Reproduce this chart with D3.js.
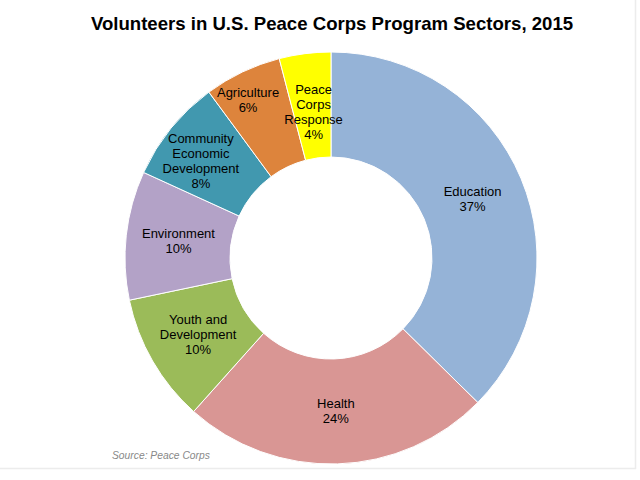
<!DOCTYPE html>
<html>
<head>
<meta charset="utf-8">
<script src="https://cdn.jsdelivr.net/npm/d3@7"></script>
<style>
  html, body { margin: 0; padding: 0; background: #fff; }
  svg { display: block; }
</style>
</head>
<body>
<svg id="chart" width="640" height="480"></svg>
<script>
// ---- data ----
const sectors = ["Education", "Health", "Youth and Development", "Environment",
                 "Community Economic Development", "Agriculture", "Peace Corps Response"];
const shares = [37, 24, 10, 10, 8, 6, 4];
const labelLines = [
  ["Education"],
  ["Health"],
  ["Youth and", "Development"],
  ["Environment"],
  ["Community", "Economic", "Development"],
  ["Agriculture"],
  ["Peace", "Corps", "Response"]
];
const sliceColors = ["#95B3D7", "#D99694", "#9BBB59", "#B3A2C7", "#4198AF", "#DD843C", "#FFFF00"];
const titleText = "Volunteers in U.S. Peace Corps Program Sectors, 2015";
const sourceText = "Source: Peace Corps";

// ---- layout ----
const W = 640, H = 480;
const cx = 331, cy = 258;
const outerR = 206, innerR = 101;
const lineH = 15;
// Excel-style nudges for labels that are fitted inside narrow slices
const labelNudge = { 4: [-11, 0], 5: [-17, -19], 6: [2, 6] };

const svg = d3.select("#chart");

// frame (right & bottom edge)
svg.append("line").attr("x1", 0).attr("x2", 636).attr("y1", 468.5).attr("y2", 468.5)
  .attr("stroke", "#ececec").attr("stroke-width", 1.5);
svg.append("line").attr("x1", 635.5).attr("x2", 635.5).attr("y1", 0).attr("y2", 469)
  .attr("stroke", "#ececec").attr("stroke-width", 1.5);

svg.append("text")
  .attr("x", 332).attr("y", 30)
  .attr("text-anchor", "middle")
  .attr("font-family", "Liberation Sans, Arial, sans-serif")
  .attr("font-weight", "bold")
  .attr("font-size", 18.6)
  .attr("fill", "#000")
  .text(titleText);

const records = sectors.map((s, i) => ({ name: s, value: shares[i], lines: labelLines[i], color: sliceColors[i], idx: i }));

const pie = d3.pie().value(d => d.value).sort(null).startAngle(0).endAngle(2 * Math.PI);
const arc = d3.arc().innerRadius(innerR).outerRadius(outerR);
const arcs = pie(records);

const g = svg.append("g").attr("transform", `translate(${cx},${cy})`);

g.selectAll("path.slice").data(arcs).join("path")
  .attr("class", "slice")
  .attr("d", arc)
  .attr("fill", d => d.data.color)
  .attr("stroke", "#fff")
  .attr("stroke-width", 1);

const fmt = d => d3.format(".0f")(d) + "%";

g.selectAll("text.lbl").data(arcs).join("text")
  .attr("class", "lbl")
  .attr("text-anchor", "middle")
  .attr("font-family", "Liberation Sans, Arial, sans-serif")
  .attr("font-size", 13)
  .attr("fill", "#000")
  .each(function (d) {
    const c = arc.centroid(d);
    const nudge = labelNudge[d.data.idx] || [0, 0];
    const x = c[0] + nudge[0], y = c[1] + nudge[1];
    const lines = d.data.lines.concat([fmt(d.data.value)]);
    const n = lines.length;
    const top = y - (n - 1) * lineH / 2 + 4.5;
    const t = d3.select(this);
    lines.forEach((ln, k) => {
      t.append("tspan").attr("x", x).attr("y", top + k * lineH).text(ln);
    });
  });

svg.append("text")
  .attr("x", 112).attr("y", 459)
  .attr("font-family", "Liberation Sans, Arial, sans-serif")
  .attr("font-style", "italic")
  .attr("font-size", 10.3)
  .attr("fill", "#888888")
  .text(sourceText);
</script>
</body>
</html>
